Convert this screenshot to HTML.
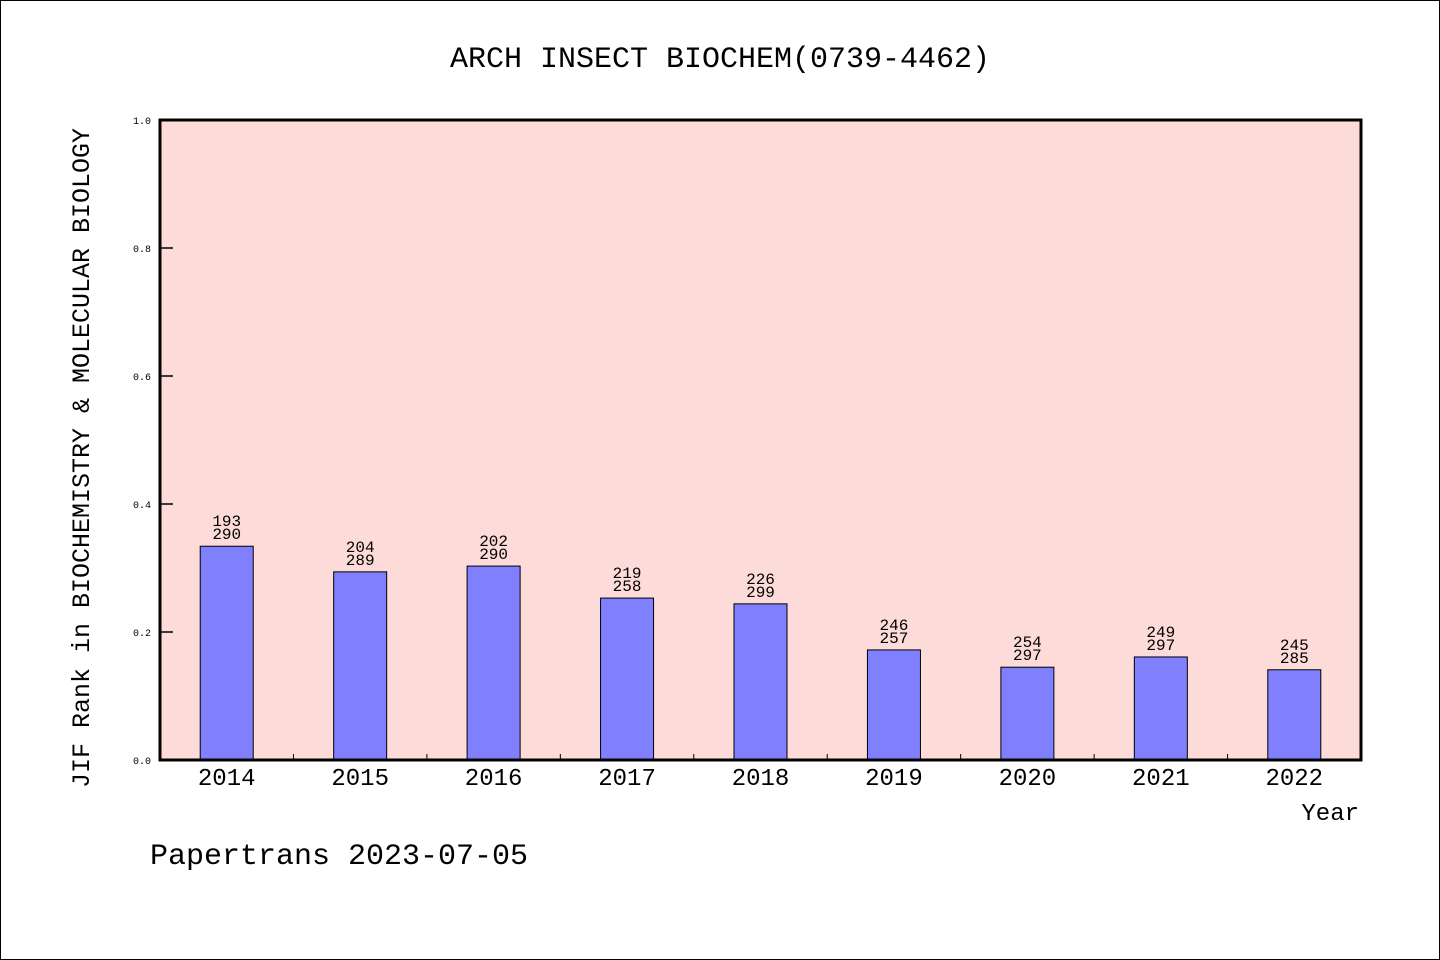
<!DOCTYPE html>
<html><head><meta charset="utf-8"><style>
body{margin:0;background:#fff}
svg{display:block;font-family:"WenQuanYi Zen Hei Mono","Liberation Mono",monospace}
</style></head><body>
<svg id="c" width="1440" height="960">
<rect x="0.5" y="0.5" width="1439" height="959" fill="#fff" stroke="#000"/>
<rect x="160" y="120" width="1201" height="640" fill="#fddbd8"/>
<text x="720" y="67" font-size="30" text-anchor="middle">ARCH INSECT BIOCHEM(0739-4462)</text>
<text transform="translate(89,458) rotate(-90)" font-size="25" text-anchor="middle">JIF Rank in BIOCHEMISTRY &amp; MOLECULAR BIOLOGY</text>
<text x="1359" y="820" font-size="24" text-anchor="end">Year</text>
<text x="150" y="864" font-size="30">Papertrans 2023-07-05</text>
<g id="marks"></g>
<rect x="160" y="120" width="1201" height="640" fill="none" stroke="#000" stroke-width="3"/>
</svg>
<script>
const years=["2014","2015","2016","2017","2018","2019","2020","2021","2022"];
const ranks=[193,204,202,219,226,246,254,249,245];
const totals=[290,289,290,258,299,257,297,297,285];
const values=[0.334,0.294,0.303,0.253,0.244,0.172,0.145,0.161,0.141];
const yTicks=[0,0.2,0.4,0.6,0.8,1.0];
const L=160,R=1361,T=120,B=760;
const ns="http://www.w3.org/2000/svg";
const g=document.getElementById('marks');
const y=v=>B-(v)*(B-T);
const step=(R-L)/years.length;
const x=i=>L+(i+0.5)*step;
function mk(t,a){const e=document.createElementNS(ns,t);for(const k in a)e.setAttribute(k,a[k]);g.appendChild(e);return e;}
yTicks.forEach(v=>{
 const l=mk('line',{x1:L,x2:L+13,y1:y(v),y2:y(v),stroke:'#000','stroke-width':1.5});
 
 
 const t=mk('text',{x:151,y:y(v)+4,'font-size':10,'text-anchor':'end'});
 t.textContent=v.toFixed(1);
 
 
});
years.forEach((yr,i)=>{
 const v=values[i];
 const r=mk('rect',{x:x(i)-26.5,y:y(v),width:53,height:B-y(v),fill:'#8080ff',stroke:'#000','stroke-width':1});
 
 
 const t1=mk('text',{x:x(i),y:y(v)-20,'font-size':16,'text-anchor':'middle'});
 t1.textContent=ranks[i];
 
 
 const t2=mk('text',{x:x(i),y:y(v)-7,'font-size':16,'text-anchor':'middle'});
 t2.textContent=totals[i];
 
 
 const xl=mk('text',{x:x(i),y:785,'font-size':24,'text-anchor':'middle'});
 xl.textContent=yr;
 
 
 if(i>0){
  const tk=mk('line',{x1:L+i*step,x2:L+i*step,y1:B,y2:B-6,stroke:'#000','stroke-width':1});
  
  
 }
});
</script>
</body></html>
